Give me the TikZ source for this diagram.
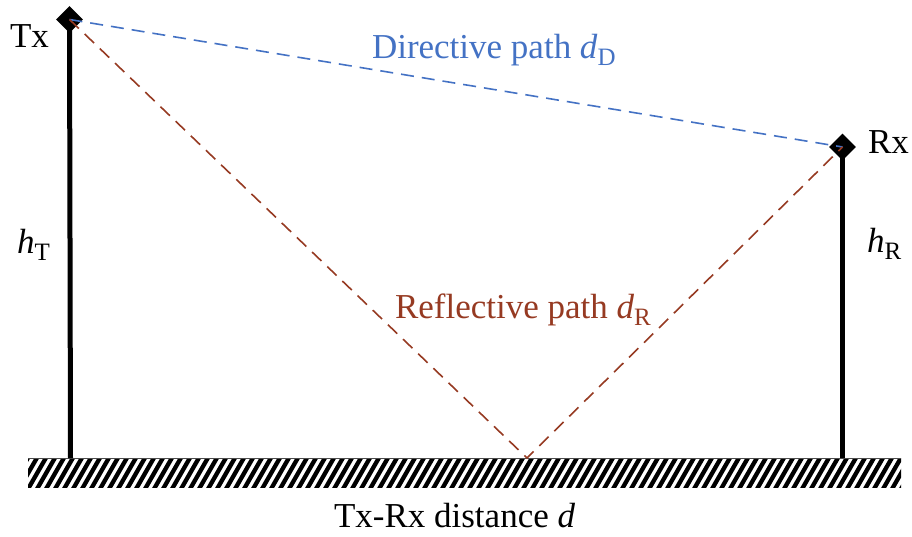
\documentclass[tikz,border=0pt]{standalone}
\usepackage{fontspec}
\setmainfont{Liberation Serif}
\definecolor{dirblue}{RGB}{68,114,196}
\definecolor{refbrown}{RGB}{150,58,34}
\newcommand{\lowsub}[1]{\raisebox{-0.22em}{\fontsize{25}{25}\selectfont #1}}
\begin{document}
\begin{tikzpicture}[x=1pt,y=-1pt,
  lbl/.style={inner sep=0pt,outer sep=0pt,anchor=base west,font=\fontsize{35}{35}\selectfont},
  pole/.style={line width=5pt,black},
  antenna/.style={fill=black,draw=none,minimum size=19pt,inner sep=0pt,rotate=45},
  dpath/.style={dash pattern=on 13pt off 8pt,line width=1.6pt}]
\useasboundingbox (0,0) rectangle (912,536);
% ground
\begin{scope}
\clip (28,458) rectangle (901,487);
\foreach \x in {10,19,...,910}{
  \draw[line width=4.3pt] (\x,489) -- (\x+19,456);
}
\end{scope}
\coordinate (gl) at (28,458);
\coordinate (gr) at (901,458);
\draw[line width=1pt,black!70] (gl) -- (gr);
% poles
\coordinate (tb) at (70.5,458);
\coordinate (rb) at (842.5,458);
\node[antenna] (tx) at (69.5,19.5) {};
\node[antenna] (rx) at (842.5,147) {};
\draw[pole] (tx.center) -- (tb);
\draw[pole] (rx.center) -- (rb);
% paths
\coordinate (refl) at (527,458);
\draw[dpath,dirblue] (tx.center) -- (rx.center);
\draw[dpath,refbrown] (tx.center) -- (refl) -- (rx.center);
% labels
\node[lbl] (txl) at (10,47) {Tx};
\node[lbl] (rxl) at (868,153) {Rx};
\node[lbl] (ht) at (17,253) {\textit{h}\lowsub{T}};
\node[lbl] (hr) at (867,252) {\textit{h}\lowsub{R}};
\node[lbl,text=dirblue] (dl) at (372,58) {Directive path \textit{d}\lowsub{D}};
\node[lbl,text=refbrown] (rl) at (395,318) {Reflective path \textit{d}\lowsub{R}};
\node[lbl] (dist) at (334,527) {Tx-Rx distance \textit{d}};
\end{tikzpicture}
\end{document}
